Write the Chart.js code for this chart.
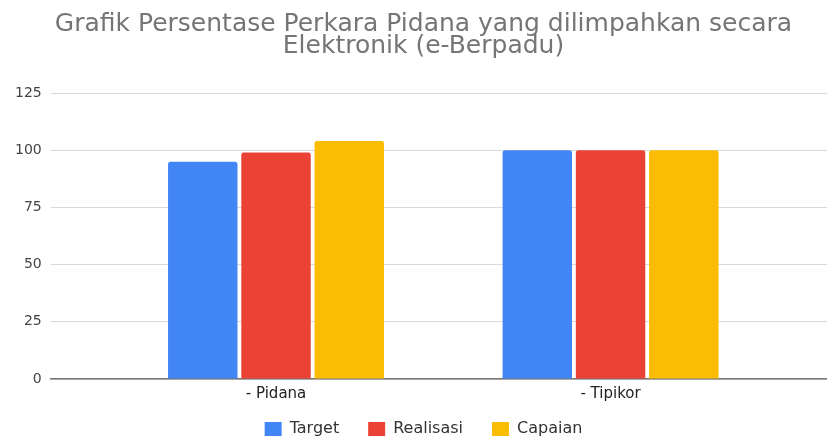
<!DOCTYPE html>
<html>
<head>
<meta charset="utf-8">
<script src="https://cdn.jsdelivr.net/npm/chart.js@4/dist/chart.umd.min.js"></script>
<style>
  html, body { margin: 0; padding: 0; background: #ffffff; }
  #wrap { width: 827px; height: 439px; position: relative; }
</style>
</head>
<body>
<div id="wrap"><canvas id="c"></canvas></div>
<script>
const titleLines = ['Grafik Persentase Perkara Pidana yang dilimpahkan secara', 'Elektronik (e-Berpadu)'];
const categories = ['- Pidana', '- Tipikor'];
const seriesNames = ['Target', 'Realisasi', 'Capaian'];
const targetValues = [95, 100];
const realisasiValues = [99, 100];
const capaianValues = [104, 100];
const yTicks = [0, 25, 50, 75, 100, 125];

const colors = ['#4285F4', '#EA4335', '#FBBC04'];
const allSeries = [targetValues, realisasiValues, capaianValues];

const datasets = allSeries.map((vals, s) => ({
  label: seriesNames[s],
  data: vals.map((v, i) => ({ x: i, y: v })),
  backgroundColor: colors[s],
  borderWidth: 0,
  borderRadius: 2.5,
  borderSkipped: 'bottom',
  categoryPercentage: 0.657,
  barPercentage: 0.948
}));

const FONT = "'DejaVu Sans', 'Liberation Sans', Arial, sans-serif";

new Chart(document.getElementById('c'), {
  type: 'bar',
  data: { datasets },
  options: {
    responsive: true,
    maintainAspectRatio: false,
    animation: false,
    layout: { padding: { left: 6, right: -14, top: 10, bottom: -8 } },
    plugins: {
      title: {
        display: true,
        text: titleLines,
        color: '#757575',
        font: { family: FONT, size: 25, weight: 'normal', lineHeight: 0.86 },
        padding: { top: 4, bottom: 36 }
      },
      legend: {
        position: 'bottom',
        labels: {
          color: '#333333',
          font: { family: FONT, size: 16 },
          boxWidth: 17,
          boxHeight: 14,
          padding: 29
        }
      },
      tooltip: { enabled: false }
    },
    scales: {
      x: {
        type: 'linear',
        offset: false,
        bounds: 'data',
        min: -0.6735,
        max: 1.647,
        afterBuildTicks: (axis) => { axis.ticks = categories.map((c, i) => ({ value: i })); },
        afterFit: (axis) => { axis.height = 13; },
        ticks: {
          color: '#222222',
          font: { family: FONT, size: 15 },
          mirror: true,
          padding: -24,
          callback: (v) => categories[v] ?? ''
        },
        grid: { display: false, offset: false, drawTicks: false },
        border: { display: true, color: '#777777', width: 1.5 }
      },
      y: {
        min: 0,
        max: 125,
        afterBuildTicks: (axis) => { axis.ticks = yTicks.map(v => ({ value: v })); },
        ticks: {
          color: '#444444',
          font: { family: FONT, size: 14 },
          padding: 9
        },
        grid: { color: '#d9d9d9', drawTicks: false, lineWidth: 1 },
        border: { display: false }
      }
    }
  }
});
</script>
</body>
</html>
